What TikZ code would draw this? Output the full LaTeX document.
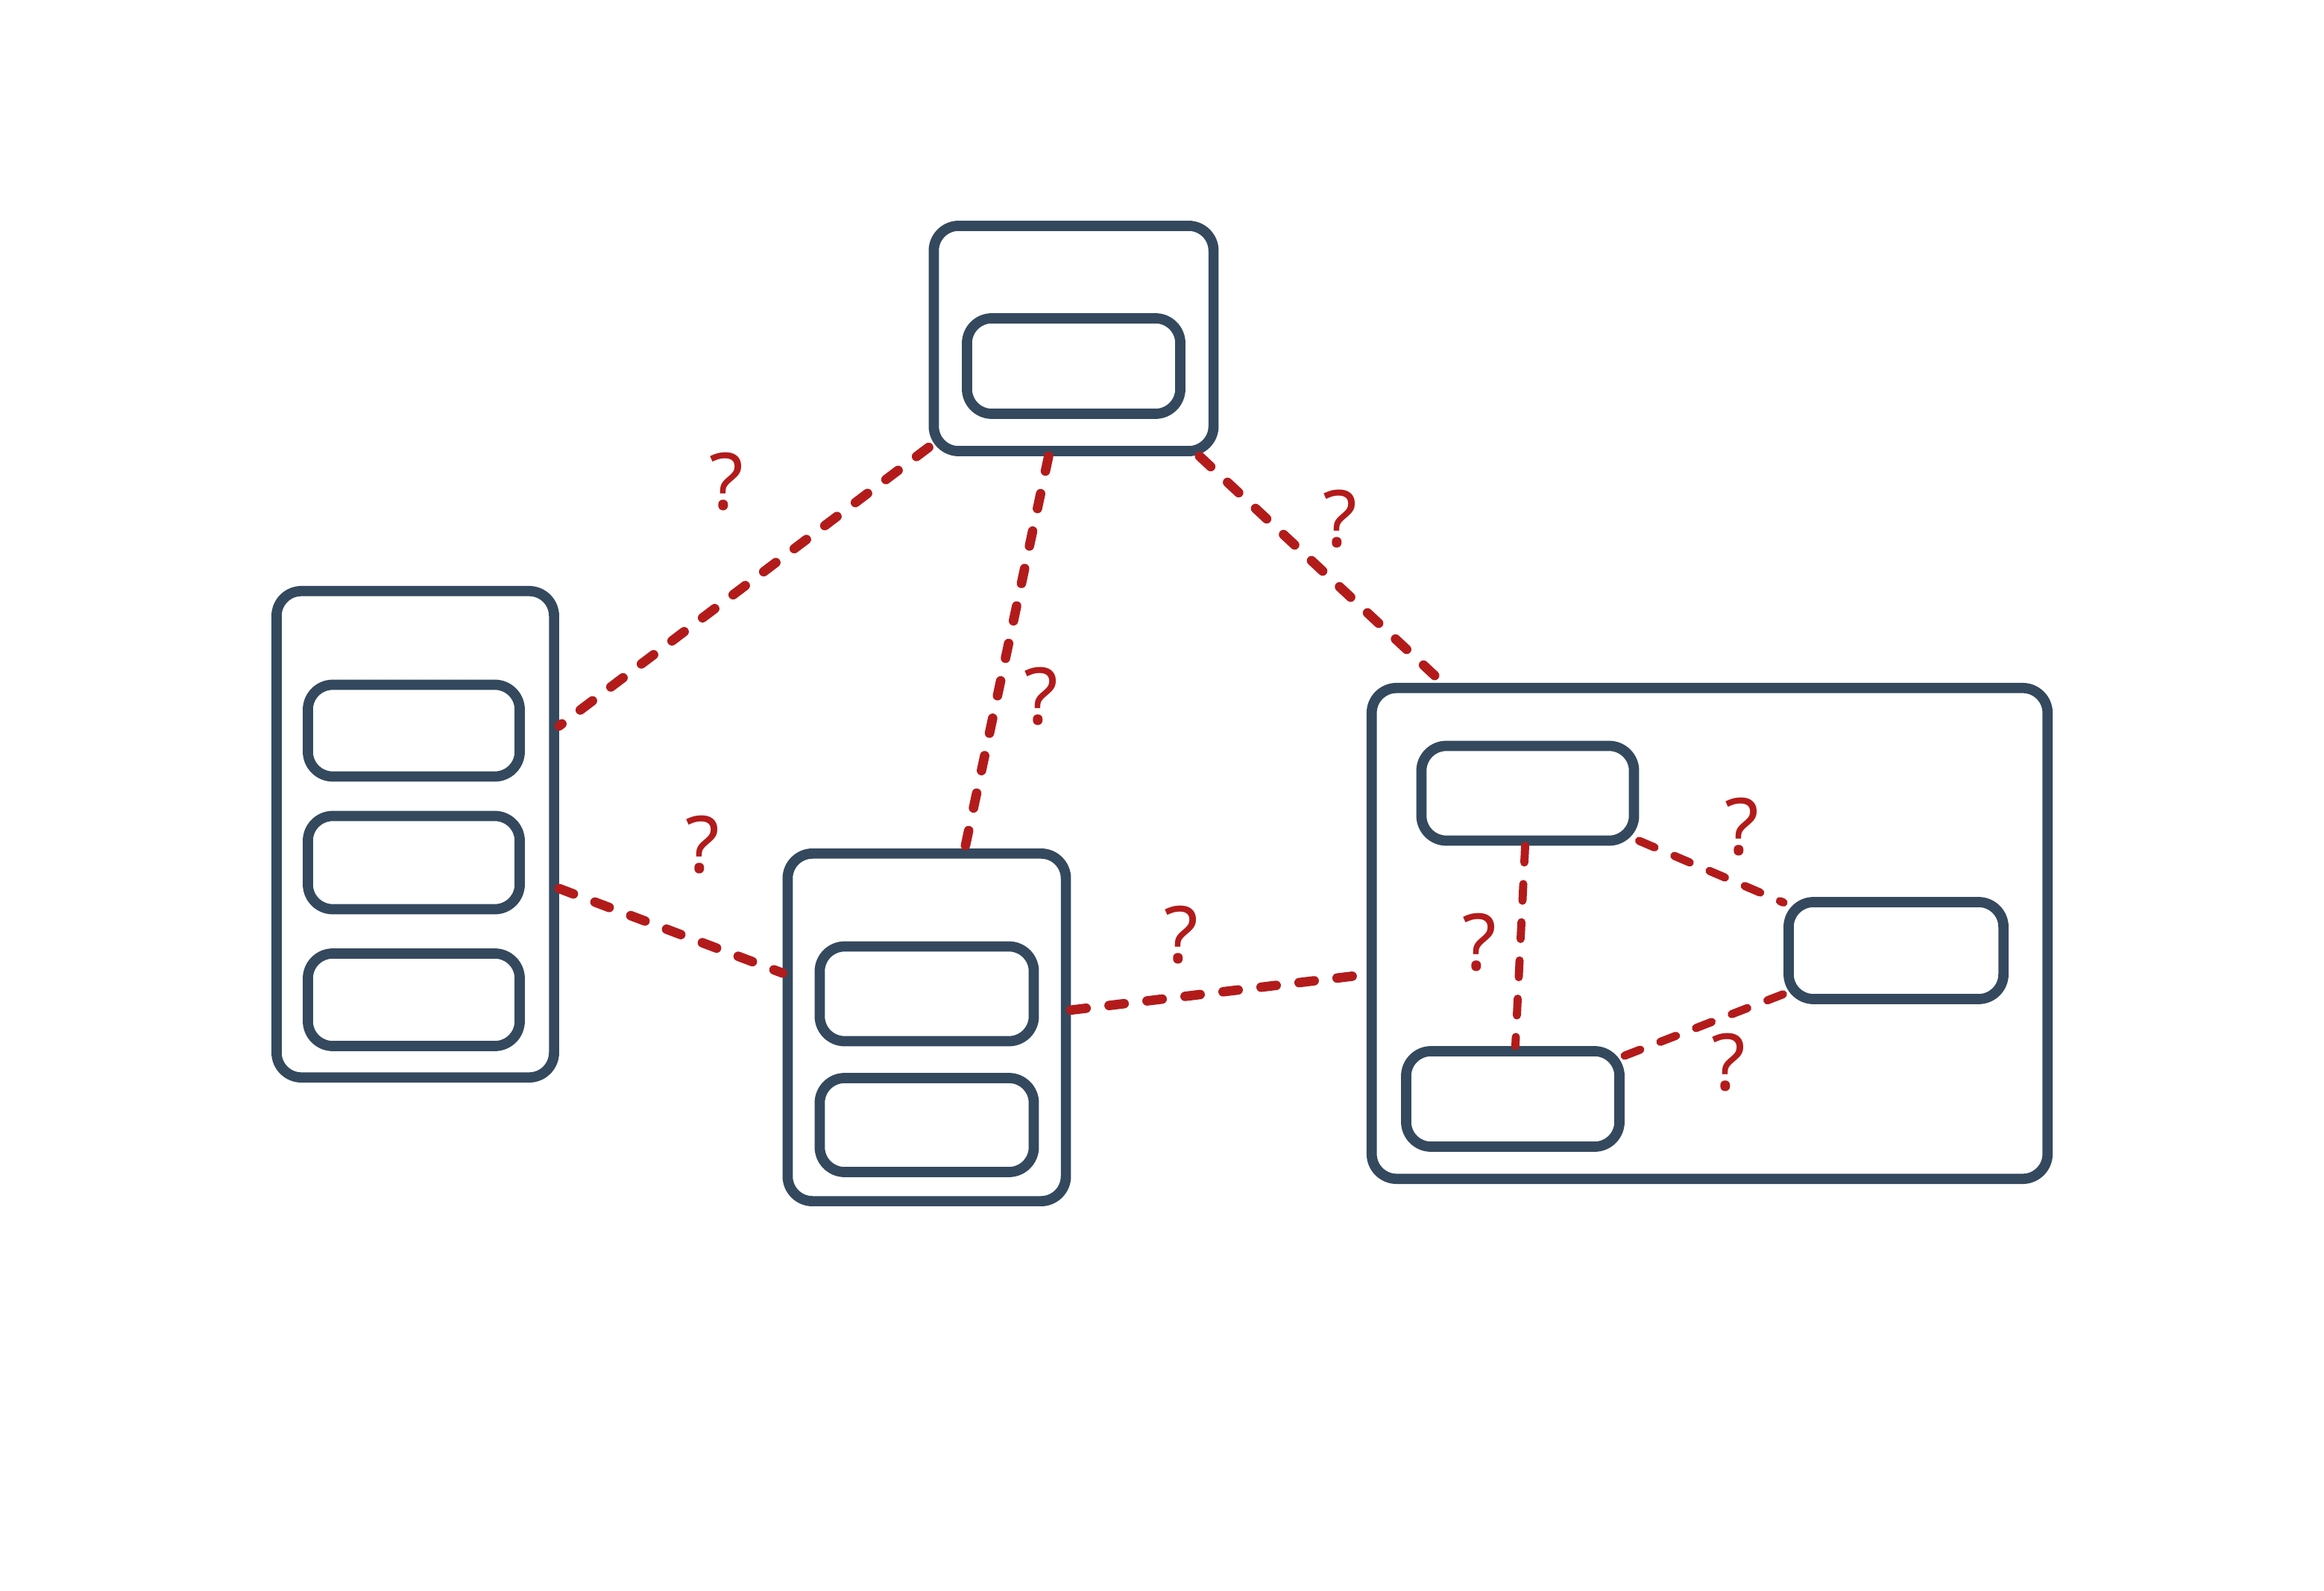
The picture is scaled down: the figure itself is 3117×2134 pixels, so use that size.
\documentclass[tikz,border=0pt]{standalone}
\usepackage{fontspec}
\setmainfont{Noto Sans}
\definecolor{slate}{HTML}{34495E}
\definecolor{linkred}{HTML}{B31B1B}
\tikzset{
  box/.style 2 args={draw=slate,line width=3.9pt,rounded corners=9.5pt,inner sep=0pt,
    minimum width=#1cm,minimum height=#2cm},
  link/.style={draw=linkred,line width=3.6pt,line cap=round,dash pattern=on 5.8pt off 8.8pt},
  sublink/.style={draw=linkred,line width=3.1pt,line cap=round,dash pattern=on 6.4pt off 8.2pt},
  qmark/.style={text=linkred,font=\fontsize{30}{31}\selectfont,inner sep=0pt}
}
\begin{document}
\begin{tikzpicture}[x=0.01cm,y=-0.01cm]
	\useasboundingbox (0,0) rectangle (3117,2134);
	% top unit
	\node[box={3.75}{3.02}] (top) at (1440,454) {};
	\node[box={2.86}{1.28}] (top1) at (1440,491) {};
	% left unit
	\node[box={3.72}{6.52}] (left) at (557,1119) {};
	\node[box={2.84}{1.23}] (left1) at (555,980) {};
	\node[box={2.84}{1.25}] (left2) at (555,1157) {};
	\node[box={2.84}{1.24}] (left3) at (555,1341) {};
	% middle unit
	\node[box={3.73}{4.66}] (mid) at (1243,1378) {};
	\node[box={2.87}{1.27}] (mid1) at (1243,1333) {};
	\node[box={2.87}{1.26}] (mid2) at (1243,1509) {};
	% right unit
	\node[box={9.06}{6.58}] (big) at (2293,1252) {};
	\node[box={2.85}{1.27}] (bigA) at (2049,1064) {};
	\node[box={2.86}{1.28}] (bigC) at (2029,1474) {};
	\node[box={2.88}{1.30}] (bigB) at (2543,1275) {};
	% unknown links
	\draw[link] (top) -- (left);
	\draw[link] (top) -- (mid);
	\draw[link] (top) -- (big);
	\draw[link] (left) -- (mid);
	\draw[link] (mid) -- (big);
	\draw[sublink] (bigA) -- (bigC);
	\draw[sublink] (bigA) -- (bigB);
	\draw[sublink] (bigC) -- (bigB);
	\path
	(974,646) node[qmark] (q1) {?}
	(1797,696) node[qmark] (q2) {?}
	(1396,934) node[qmark] (q3) {?}
	(942,1133) node[qmark] (q4) {?}
	(1584,1254) node[qmark] (q5) {?}
	(1984,1264) node[qmark] (q6) {?}
	(2336,1109) node[qmark] (q7) {?}
	(2318,1425) node[qmark] (q8) {?};
\end{tikzpicture}
\end{document}
